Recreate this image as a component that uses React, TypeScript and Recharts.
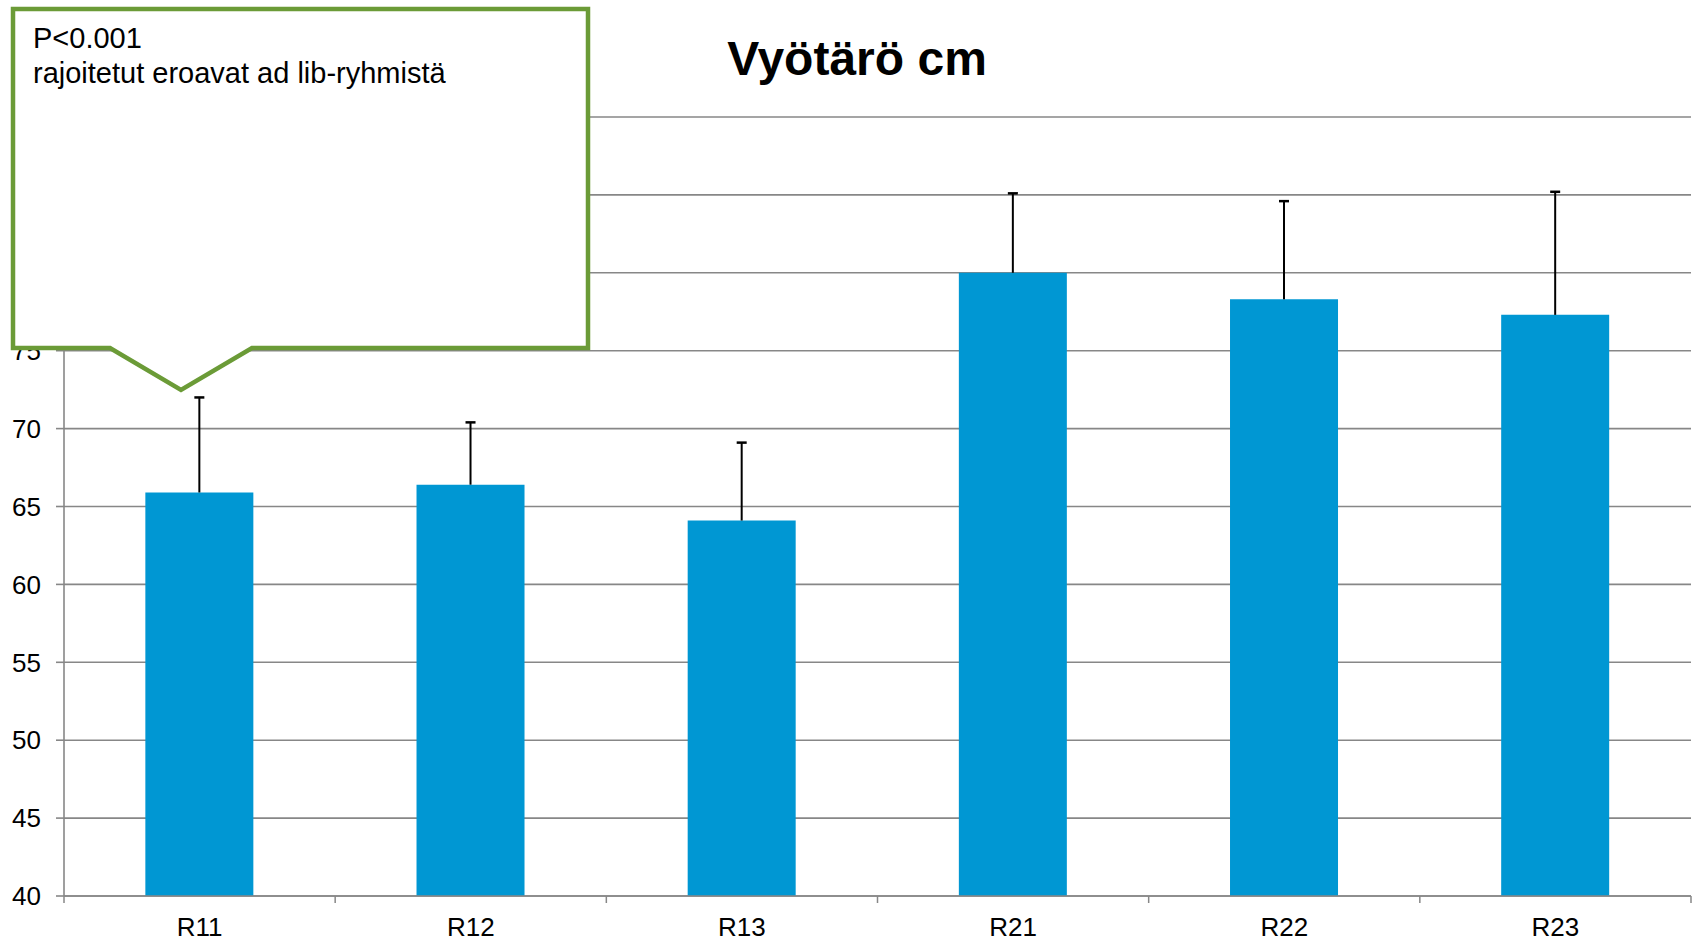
import { BarChart, Bar, XAxis, YAxis, CartesianGrid } from 'recharts';

const CATEGORIES = ['R11', 'R12', 'R13', 'R21', 'R22', 'R23'];
const MEANS = [65.9, 66.4, 64.1, 80.0, 78.3, 77.3];
const SDS = [6.1, 4.0, 5.0, 5.1, 6.3, 7.9];
const Y_TICKS = [40, 45, 50, 55, 60, 65, 70, 75, 80, 85, 90];

const TITLE = 'Vyötärö cm';
const NOTE_LINES = ['P<0.001', 'rajoitetut eroavat ad lib-ryhmistä'];

const FONT = '"Liberation Sans", Arial, sans-serif';
const BAR_COLOR = '#0097D3';
const GRID_COLOR = '#878787';
const GREEN = '#6B9B37';

const W = 1694;
const H = 942;

const data = CATEGORIES.map((name, i) => ({
  name,
  mean: MEANS[i],
  whisker: [MEANS[i], MEANS[i] + SDS[i]],
}));

// upper-only error bar, drawn from the range bar's rectangle
function Whisker(props: any) {
  const { x, y, width, height } = props;
  if (height == null || isNaN(y)) return null;
  const cx = x + width / 2;
  return (
    <g>
      <line x1={cx} y1={y + height} x2={cx} y2={y} stroke="#000" strokeWidth={2} />
      <line x1={cx - 5} y1={y} x2={cx + 5} y2={y} stroke="#000" strokeWidth={2.5} />
    </g>
  );
}

// category label plus boundary tick marks (Excel style)
function CategoryTick(props: any) {
  const { x, y, payload, width, visibleTicksCount, index } = props;
  const half = width && visibleTicksCount ? width / visibleTicksCount / 2 : 135.6;
  const last = index === (visibleTicksCount ?? CATEGORIES.length) - 1;
  return (
    <g>
      <line x1={x - half} y1={y} x2={x - half} y2={y + 7} stroke={GRID_COLOR} strokeWidth={1.5} />
      {last && <line x1={x + half} y1={y} x2={x + half} y2={y + 7} stroke={GRID_COLOR} strokeWidth={1.5} />}
      <text x={x} y={y + 40} textAnchor="middle" fontSize={26} fill="#000" fontFamily={FONT}>
        {payload.value}
      </text>
    </g>
  );
}

export default function App() {
  return (
    <div style={{ position: 'absolute', left: 0, top: 0, width: W, height: H, background: '#fff' }}>
      <BarChart
        width={W}
        height={H}
        data={data}
        margin={{ top: 117, right: 3, bottom: 0, left: 0 }}
        barCategoryGap="30%"
      >
        <CartesianGrid vertical={false} stroke={GRID_COLOR} strokeWidth={1.6} />
        <XAxis
          dataKey="name"
          height={46}
          tickLine={false}
          tickSize={0}
          tickMargin={0}
          axisLine={{ stroke: GRID_COLOR, strokeWidth: 1.6 }}
          tick={<CategoryTick />}
          interval={0}
        />
        <XAxis xAxisId="err" dataKey="name" hide />
        <YAxis
          width={64}
          domain={[40, 90]}
          ticks={Y_TICKS}
          interval={0}
          tickSize={8}
          tickMargin={15}
          axisLine={{ stroke: GRID_COLOR, strokeWidth: 1.6 }}
          tickLine={{ stroke: GRID_COLOR, strokeWidth: 1.6 }}
          tick={{ fontSize: 26, fill: '#000', fontFamily: FONT }}
        />
        <Bar dataKey="mean" fill={BAR_COLOR} isAnimationActive={false} />
        <Bar dataKey="whisker" xAxisId="err" shape={<Whisker />} isAnimationActive={false} />
      </BarChart>

      <svg
        width={W}
        height={H}
        style={{ position: 'absolute', left: 0, top: 0, pointerEvents: 'none' }}
      >
        <text x={857} y={75} textAnchor="middle" fontSize={48} fontWeight="bold" fill="#000" fontFamily={FONT}>
          {TITLE}
        </text>
        <path
          d="M13,9 L588,9 L588,348 L252,348 L181,390 L110,348 L13,348 Z"
          fill="#fff"
          stroke={GREEN}
          strokeWidth={4.5}
          strokeLinejoin="miter"
        />
        {NOTE_LINES.map((t, i) => (
          <text key={i} x={33} y={48 + i * 35} fontSize={29} fill="#000" fontFamily={FONT}>
            {t}
          </text>
        ))}
      </svg>
    </div>
  );
}
